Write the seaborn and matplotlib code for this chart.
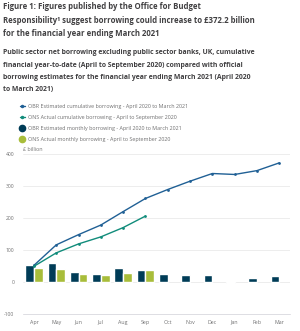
import numpy as np
import pandas as pd
import matplotlib
matplotlib.use("Agg")
import matplotlib.pyplot as plt
from matplotlib.lines import Line2D
import seaborn as sns

months = ["Apr", "May", "Jun", "Jul", "Aug", "Sep", "Oct", "Nov", "Dec", "Jan", "Feb", "Mar"]
obr_cumulative = [52, 116, 148, 178, 220, 261, 289, 315, 339, 336, 348, 372.2]
ons_cumulative = [49, 91, 119, 141, 170, 206]
obr_monthly = [52, 59, 30, 26, 43, 38, 26, 23, 21, -2, 11, 18]
ons_monthly = [45, 41, 25, 21, 28, 36]
yticks = [-100, 0, 100, 200, 300, 400]

series_names = [
    "OBR Estimated cumulative borrowing - April 2020 to March 2021",
    "ONS Actual cumulative borrowing - April to September 2020",
    "OBR Estimated monthly borrowing - April 2020 to March 2021",
    "ONS Actual monthly borrowing - April to September 2020",
]
c_obr_line = "#206095"
c_ons_line = "#118c7b"
c_obr_bar = "#003c57"
c_ons_bar = "#a8bd3a"

sns.set_theme(style="white")
plt.rcParams["font.family"] = ["Open Sans", "DejaVu Sans"]

fig = plt.figure(figsize=(3.0, 3.31), dpi=100)
ax = fig.add_axes([0.076, 0.0514, 0.892, 0.4834])

bars = pd.DataFrame({
    "month": months * 2,
    "value": obr_monthly + ons_monthly + [np.nan] * (len(months) - len(ons_monthly)),
    "series": [series_names[2]] * len(months) + [series_names[3]] * len(months),
})
bars = bars.dropna()
sns.barplot(data=bars, x="month", y="value", hue="series", order=months,
            hue_order=[series_names[2], series_names[3]],
            palette=[c_obr_bar, c_ons_bar], width=0.78, dodge=True,
            saturation=1, ax=ax, legend=False, zorder=3)

x_all = np.arange(len(months))
sns.lineplot(x=x_all, y=obr_cumulative, color=c_obr_line, linewidth=1.0,
             marker="o", markersize=2, markeredgewidth=0, ax=ax, zorder=4)
sns.lineplot(x=x_all[:len(ons_cumulative)], y=ons_cumulative, color=c_ons_line,
             linewidth=1.0, marker="o", markersize=2, markeredgewidth=0, ax=ax, zorder=4)

ax.set_xlim(-0.5, len(months) - 0.5)
ax.set_ylim(-100, 400)
ax.set_yticks(yticks)
ax.set_yticklabels([str(v) for v in yticks], fontsize=3.6, color="#707071")
ax.set_xticks(x_all)
ax.set_xticklabels(months, fontsize=3.8, color="#707071")
ax.set_xticks(np.arange(-0.5, len(months), 1), minor=True)
ax.tick_params(axis="x", which="major", length=0, pad=4)
ax.tick_params(axis="x", which="minor", length=3, width=0.5, color="#d0d0d8")
ax.tick_params(axis="y", length=0, pad=6)
ax.set_xlabel("")
ax.set_ylabel("")
for v in yticks[1:]:
    ax.axhline(v, color="#e6e6e6", linewidth=0.5, zorder=1)
for s in ["top", "right", "left"]:
    ax.spines[s].set_visible(False)
ax.spines["bottom"].set_color("#d0d0d8")
ax.spines["bottom"].set_linewidth(0.5)

ax.text(0.0, 1.015, "£ billion", transform=ax.transAxes, fontsize=3.8,
        color="#707071", ha="left", va="bottom")

handles = [
    Line2D([], [], color=c_obr_line, linewidth=1.0, marker="o", markersize=1.5),
    Line2D([], [], color=c_ons_line, linewidth=1.0, marker="o", markersize=1.5),
    Line2D([], [], color=c_obr_bar, linestyle="", marker="o", markersize=4.5),
    Line2D([], [], color=c_ons_bar, linestyle="", marker="o", markersize=4.5),
]
fig.legend(handles, series_names, loc="upper left", bbox_to_anchor=(0.065, 0.686),
           frameon=False, fontsize=3.9, labelcolor="#707071", handlelength=1.0,
           handletextpad=0.6, labelspacing=1.12, borderpad=0, borderaxespad=0)

title = ("Figure 1: Figures published by the Office for Budget\n"
         "Responsibility¹ suggest borrowing could increase to £372.2 billion\n"
         "for the financial year ending March 2021")
fig.text(0.009, 0.993, title, fontsize=5.6, fontweight="bold", color="#414042",
         ha="left", va="top", linespacing=1.62)
subtitle = ("Public sector net borrowing excluding public sector banks, UK, cumulative\n"
            "financial year-to-date (April to September 2020) compared with official\n"
            "borrowing estimates for the financial year ending March 2021 (April 2020\n"
            "to March 2021)")
fig.text(0.009, 0.851, subtitle, fontsize=4.95, fontweight="bold", color="#414042",
         ha="left", va="top", linespacing=2.05)

fig.savefig("out.png", dpi=100)
